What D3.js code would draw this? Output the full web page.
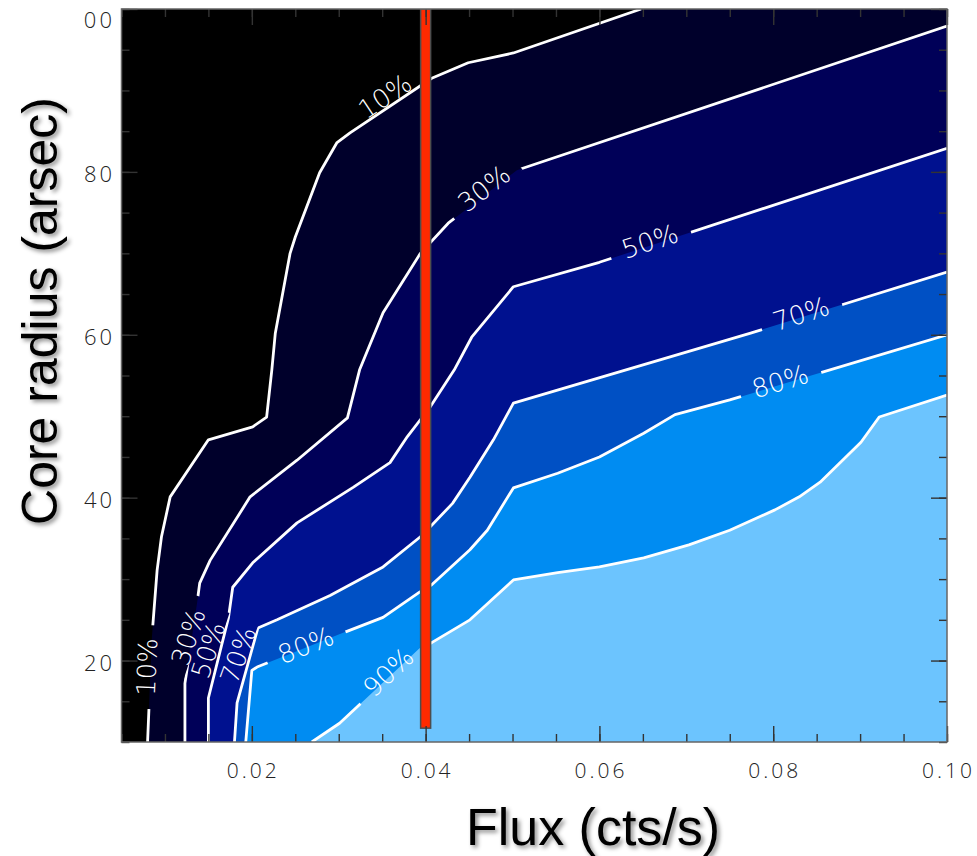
<!DOCTYPE html>
<html><head><meta charset="utf-8">
<script src="https://cdn.jsdelivr.net/npm/d3@7"></script>
<style>
html,body{margin:0;padding:0;background:#fff;}
svg{display:block;}
</style></head><body>
<svg id="chart" width="977" height="856"></svg>
<script>
// ---------------- data (flux in cts/s, core radius in arcsec) ----------------
const fluxDomain = [0.005, 0.10];
const radiusDomain = [10, 100];
const levels = [10, 30, 50, 70, 80, 90];
const levelLabels = ["10%", "30%", "50%", "70%", "80%", "90%"];

const contour10 = [[0.0080,10],[0.0085,22.9],[0.0091,31.1],[0.0096,35.2],[0.0106,40.1],[0.0150,47.1],[0.0201,48.7],[0.0217,49.9],[0.0223,55.7],[0.0227,60.2],[0.0244,70.0],[0.0250,72.0],[0.0278,79.9],[0.0298,83.6],[0.0313,84.8],[0.0407,91.5],[0.0449,93.4],[0.0501,94.6],[0.0648,100]];
const contour30 = [[0.0123,10],[0.0123,17.2],[0.0137,27.1],[0.0140,29.5],[0.0152,32.3],[0.0198,40.1],[0.0252,44.6],[0.0310,49.8],[0.0324,55.7],[0.0351,62.7],[0.0394,70.0],[0.0426,73.7],[0.0505,80.2],[0.1000,97.9]];
const contour50 = [[0.0150,10],[0.0150,15.4],[0.0173,25.2],[0.0178,29.0],[0.0201,32.0],[0.0252,36.9],[0.0317,41.3],[0.0359,44.3],[0.0379,47.5],[0.0405,51.1],[0.0433,55.7],[0.0453,59.7],[0.0501,65.9],[0.0600,68.9],[0.1000,82.9]];
const contour70 = [[0.0180,10],[0.0183,14.8],[0.0207,24.0],[0.0229,25.0],[0.0290,28.0],[0.0351,31.5],[0.0394,35.2],[0.0407,36.6],[0.0431,39.3],[0.0451,42.5],[0.0478,47.1],[0.0501,51.6],[0.0774,60.2],[0.1000,67.7]];
const contour80 = [[0.0193,10],[0.0200,18.8],[0.0206,19.2],[0.0305,23.4],[0.0351,25.3],[0.0393,28.4],[0.0407,29.3],[0.0451,33.6],[0.0471,36.0],[0.0501,41.2],[0.0552,43.0],[0.0600,45.0],[0.0651,47.9],[0.0687,50.2],[0.0750,52.0],[0.1000,60.0]];
const contour90 = [[0.0269,10],[0.0301,12.3],[0.0321,14.3],[0.0393,21.5],[0.0407,22.2],[0.0451,25.0],[0.0501,29.9],[0.0552,30.8],[0.0600,31.5],[0.0651,32.6],[0.0703,34.2],[0.0750,36.0],[0.0802,38.5],[0.0830,40.1],[0.0854,41.9],[0.0901,46.8],[0.0922,49.9],[0.1000,52.6]];
const contours = [contour10, contour30, contour50, contour70, contour80, contour90];

// label anchor points on the contours: [level, flux, radius]
const labelPoints = [[10,0.0353,89.3],[30,0.0467,78.0],[50,0.0658,71.5],[70,0.0832,62.6],[80,0.0808,54.3],
                     [10,0.0079,19.2],[30,0.01265,22.9],[50,0.01495,21.3],[70,0.0184,20.7],[80,0.0262,21.9],[90,0.0357,18.6]];
// label orientation in screen degrees (null = follow the contour)
const labelTilt = [null, null, null, null, null, null, -72, -72, -70, null, null];

const xTickValues = [0.02, 0.04, 0.06, 0.08, 0.10];
const xTickLabels = ["0.02", "0.04", "0.06", "0.08", "0.10"];
const yTickValues = [20, 40, 60, 80, 100];
const yTickLabels = ["20", "40", "60", "80", "100"];

const markerFlux = 0.04;
const markerRadius = [11.7, 100];

const xTitle = "Flux (cts/s)";
const yTitle = "Core radius (arsec)";

// ---------------- styles ----------------
const bandColors = ["#000000", "#00002b", "#000058", "#00118f", "#0050c4", "#008cf2", "#6cc4fe"];
const L = 121.5, R = 947, T = 9, B = 742;

const svg = d3.select("#chart");
const defs = svg.append("defs");
const x = d3.scaleLinear().domain(fluxDomain).range([L, R]);
const y = d3.scaleLinear().domain(radiusDomain).range([B, T]);
const line = d3.line().x(d => x(d[0])).y(d => y(d[1]));

defs.append("clipPath").attr("id", "plotClip").append("rect")
  .attr("x", L).attr("y", T).attr("width", R - L).attr("height", B - T);
defs.append("clipPath").attr("id", "ylabClip").append("rect")
  .attr("x", 82).attr("y", 0).attr("width", 40).attr("height", 856);
const f = defs.append("filter").attr("id", "shadow").attr("x", "-10%").attr("y", "-20%").attr("width", "130%").attr("height", "150%");
f.append("feDropShadow").attr("dx", 2.5).attr("dy", 2.5).attr("stdDeviation", 2).attr("flood-color", "#000").attr("flood-opacity", 0.45);

const plot = svg.append("g").attr("clip-path", "url(#plotClip)");

// filled bands
plot.append("rect").attr("x", L).attr("y", T).attr("width", R - L).attr("height", B - T).attr("fill", bandColors[6]);
for (let i = levels.length - 1; i >= 0; i--) {
  const pts = contours[i].slice();
  const last = pts[pts.length - 1];
  if (last[0] >= fluxDomain[1]) pts.push([fluxDomain[1], radiusDomain[1]]);
  pts.push([fluxDomain[0], radiusDomain[1]], [fluxDomain[0], radiusDomain[0]]);
  plot.append("path").attr("d", line(pts) + "Z").attr("fill", bandColors[i]);
}

// labels with angle from nearest contour segment
function segAngle(pts, px, py) {
  let best = Infinity, ang = 0;
  for (let k = 0; k < pts.length - 1; k++) {
    const ax = x(pts[k][0]), ay = y(pts[k][1]), bx = x(pts[k+1][0]), by = y(pts[k+1][1]);
    const dx = bx - ax, dy = by - ay, len2 = dx*dx + dy*dy;
    let t = len2 ? ((px-ax)*dx + (py-ay)*dy) / len2 : 0;
    t = Math.max(0, Math.min(1, t));
    const qx = ax + t*dx, qy = ay + t*dy, d = Math.hypot(px-qx, py-qy);
    if (d < best) { best = d; let a = Math.atan2(dy, dx) * 180 / Math.PI; if (a > 90) a -= 180; if (a < -90) a += 180; ang = a; }
  }
  return ang;
}
const labelG = plot.append("g");
const labels = labelPoints.map((p, j) => {
  const li = levels.indexOf(p[0]);
  const px = x(p[1]), py = y(p[2]);
  const a = labelTilt[j] != null ? labelTilt[j] : segAngle(contours[li], px, py);
  const t = labelG.append("text")
    .attr("transform", `translate(${px},${py}) rotate(${a})`)
    .attr("text-anchor", "middle").attr("dy", "0.36em")
    .attr("font-family", "'DejaVu Sans', sans-serif").attr("font-weight", 200)
    .attr("font-size", 26).attr("fill", "#fff")
    .text(levelLabels[li]);
  return {li, px, py, a, w: t.node().getComputedTextLength()};
});

// contour lines with gaps under labels
levels.forEach((lv, i) => {
  const m = defs.append("mask").attr("id", "gap" + lv).attr("maskUnits", "userSpaceOnUse")
    .attr("x", 0).attr("y", 0).attr("width", 977).attr("height", 856);
  m.append("rect").attr("x", 0).attr("y", 0).attr("width", 977).attr("height", 856).attr("fill", "#fff");
  labels.filter(l => l.li === i).forEach(l => {
    const gw = l.w + 26;
    m.append("rect").attr("x", -gw/2).attr("y", -9).attr("width", gw).attr("height", 18)
      .attr("transform", `translate(${l.px},${l.py}) rotate(${l.a})`).attr("fill", "#000");
  });
  plot.insert("path", () => labelG.node()).attr("d", line(contours[i])).attr("fill", "none")
    .attr("stroke", "#fff").attr("stroke-width", 2.8).attr("stroke-linejoin", "round")
    .attr("mask", `url(#gap${lv})`);
});

// red marker bar
plot.append("rect")
  .attr("x", x(markerFlux) - 5).attr("width", 10)
  .attr("y", y(markerRadius[1])).attr("height", y(markerRadius[0]) - y(markerRadius[1]))
  .attr("fill", "#ff2a00").attr("stroke", "#4d4d4d").attr("stroke-width", 1.5);

// ticks on all four sides
const minorX = x.ticks(20), minorY = y.ticks(18);
function ticks(axisGen, scale, tr, vals, size) {
  const g = svg.append("g").attr("transform", tr).call(axisGen(scale).tickValues(vals).tickSize(size).tickFormat(""));
  g.select(".domain").remove();
  g.selectAll("line").attr("stroke", "#333").attr("stroke-width", 1.4);
}
ticks(d3.axisTop, x, `translate(0,${B})`, minorX, 8);
ticks(d3.axisTop, x, `translate(0,${B})`, xTickValues, 16);
ticks(d3.axisBottom, x, `translate(0,${T})`, minorX, 8);
ticks(d3.axisBottom, x, `translate(0,${T})`, xTickValues, 16);
ticks(d3.axisRight, y, `translate(${L},0)`, minorY, 8);
ticks(d3.axisRight, y, `translate(${L},0)`, yTickValues, 16);
ticks(d3.axisLeft, y, `translate(${R},0)`, minorY, 8);
ticks(d3.axisLeft, y, `translate(${R},0)`, yTickValues, 16);

// frame
svg.append("rect").attr("x", L).attr("y", T).attr("width", R - L).attr("height", B - T)
  .attr("fill", "none").attr("stroke", "#666").attr("stroke-width", 1.5);

// tick labels
svg.append("g").selectAll("text").data(xTickValues).join("text")
  .attr("x", d => x(d) + 1.5).attr("y", 778).attr("text-anchor", "middle")
  .attr("font-family", "'Open Sans', sans-serif").attr("font-weight", 300).attr("font-size", 21)
  .attr("letter-spacing", 3).attr("fill", "#222")
  .text((d, i) => xTickLabels[i]);
svg.append("g").attr("clip-path", "url(#ylabClip)").selectAll("text").data(yTickValues).join("text")
  .attr("x", 115).attr("y", d => Math.max(y(d) + 10.5, 28)).attr("text-anchor", "end")
  .attr("font-family", "'Open Sans', sans-serif").attr("font-weight", 300).attr("font-size", 22)
  .attr("letter-spacing", 3).attr("fill", "#222")
  .text((d, i) => yTickLabels[i]);

// axis titles
svg.append("g").attr("filter", "url(#shadow)").append("text")
  .attr("x", 593).attr("y", 845).attr("text-anchor", "middle")
  .attr("font-family", "'Liberation Sans', Arial, sans-serif").attr("font-size", 52).attr("fill", "#000")
  .text(xTitle);
svg.append("g").attr("filter", "url(#shadow)").append("text")
  .attr("transform", "translate(57,311) rotate(-90)").attr("text-anchor", "middle")
  .attr("font-family", "'Liberation Sans', Arial, sans-serif").attr("font-size", 50).attr("fill", "#000")
  .text(yTitle);
</script>
</body></html>
